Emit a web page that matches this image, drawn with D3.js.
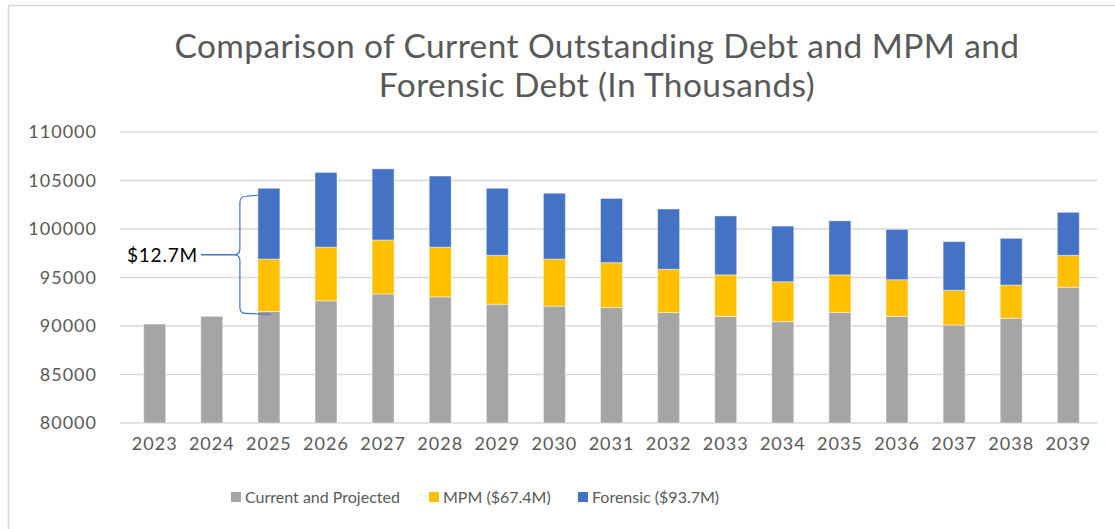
<!DOCTYPE html>
<html>
<head>
<meta charset="utf-8">
<script src="https://cdn.jsdelivr.net/npm/d3@7"></script>
<style>
  body { margin: 0; background: #fff; }
  svg { display: block; font-family: Lato, "Open Sans", sans-serif; }
</style>
</head>
<body>
<svg id="chart" width="1115" height="529"></svg>
<script>
var years = ["2023", "2024", "2025", "2026", "2027", "2028", "2029", "2030", "2031",
             "2032", "2033", "2034", "2035", "2036", "2037", "2038", "2039"];
var current = [90200, 91000, 91500, 92600, 93300, 93000, 92250, 92050, 91900,
               91400, 91000, 90450, 91400, 91000, 90100, 90800, 94000];
var mpm = [0, 0, 5400, 5530, 5570, 5130, 5030, 4850, 4630,
           4450, 4275, 4110, 3875, 3770, 3580, 3420, 3280];
var forensic = [0, 0, 7300, 7700, 7330, 7330, 6920, 6790, 6620,
                6210, 6075, 5740, 5565, 5190, 5020, 4820, 4440];
var yTicks = [80000, 85000, 90000, 95000, 100000, 105000, 110000];
var seriesNames = ["Current and Projected", "MPM ($67.4M)", "Forensic ($93.7M)"];
var colors = ["#a5a5a5", "#ffc000", "#4472c4"];
var titleLines = ["Comparison of Current Outstanding Debt and MPM and", "Forensic Debt (In Thousands)"];
var braceLabel = "$12.7M";
var braceYear = "2025";

var svg = d3.select("#chart"),
    width = 1115,
    height = 529;

var margin = { left: 126, right: 18, top: 132, bottom: 106 };

// outer frame
svg.append("rect")
  .attr("x", 8.5).attr("y", 5.5)
  .attr("width", width + 20).attr("height", height + 20)
  .attr("fill", "none").attr("stroke", "#d9d9d9").attr("stroke-width", 1.5);

var x = d3.scaleBand()
  .domain(years)
  .range([margin.left, width - margin.right])
  .paddingInner(0.615)
  .paddingOuter(0.31);

var y = d3.scaleLinear()
  .domain([80000, 110000])
  .range([height - margin.bottom, margin.top]);

// title
svg.append("g").selectAll("text")
  .data(titleLines)
  .join("text")
  .attr("x", 597)
  .attr("y", function (d, i) { return 58 + i * 39; })
  .attr("text-anchor", "middle")
  .attr("fill", "#595959")
  .attr("font-size", 33.5)
  .attr("letter-spacing", 0.4)
  .text(function (d) { return d; });

// gridlines
svg.append("g")
  .selectAll("line")
  .data(yTicks)
  .join("line")
  .attr("x1", margin.left - 6)
  .attr("x2", width - margin.right)
  .attr("y1", function (d) { return y(d); })
  .attr("y2", function (d) { return y(d); })
  .attr("stroke", "#d9d9d9")
  .attr("stroke-width", 1.5);

// y axis labels
var yAxis = svg.append("g")
  .attr("transform", "translate(97,0)")
  .call(d3.axisLeft(y).tickValues(yTicks).tickSize(0).tickPadding(0).tickFormat(d3.format("d")));
yAxis.select(".domain").remove();
yAxis.selectAll("text")
  .attr("fill", "#595959")
  .attr("font-size", 18)
  .attr("letter-spacing", 1)
  .attr("font-family", "Lato, sans-serif");

// x axis labels
var xAxis = svg.append("g")
  .attr("transform", "translate(0," + (height - margin.bottom) + ")")
  .call(d3.axisBottom(x).tickSize(0).tickPadding(14));
xAxis.select(".domain").remove();
xAxis.selectAll("text")
  .attr("fill", "#595959")
  .attr("font-size", 18)
  .attr("letter-spacing", 1)
  .attr("font-family", "Lato, sans-serif");

// stacked bars
var rows = years.map(function (yr, i) {
  return { year: yr, current: current[i], mpm: mpm[i], forensic: forensic[i] };
});
var stack = d3.stack().keys(["current", "mpm", "forensic"]);
var layers = stack(rows);

svg.append("g")
  .selectAll("g")
  .data(layers)
  .join("g")
  .attr("fill", function (d, i) { return colors[i]; })
  .selectAll("rect")
  .data(function (d) { return d.filter(function (p) { return p[1] > p[0]; }); })
  .join("rect")
  .attr("x", function (d) { return x(d.data.year); })
  .attr("width", x.bandwidth())
  .attr("y", function (d) { return y(d[1]); })
  .attr("height", function (d) { return y(Math.max(d[0], 80000)) - y(d[1]); })
  .attr("stroke", "rgba(255,255,255,0.45)")
  .attr("stroke-width", 1);

// brace annotation
var bi = years.indexOf(braceYear);
var bTop = y(current[bi] + mpm[bi] + forensic[bi]) + 8,
    bBot = y(current[bi]) + 2,
    bMid = (bTop + bBot) / 2,
    bx = x(braceYear) - 18,
    tipX = bx - 6;
var brace = d3.path();
brace.moveTo(x(braceYear), bTop - 1);
brace.lineTo(bx + 6, bTop);
brace.quadraticCurveTo(bx, bTop, bx, bTop + 6);
brace.lineTo(bx, bMid - 6);
brace.quadraticCurveTo(bx, bMid, tipX, bMid);
brace.quadraticCurveTo(bx, bMid, bx, bMid + 6);
brace.lineTo(bx, bBot - 6);
brace.quadraticCurveTo(bx, bBot, bx + 6, bBot);
brace.lineTo(x(braceYear) + 13, bBot + 1);
svg.append("path")
  .attr("d", brace.toString())
  .attr("fill", "none")
  .attr("stroke", "#4472c4")
  .attr("stroke-width", 1.2);
svg.append("line")
  .attr("x1", 201).attr("x2", tipX)
  .attr("y1", bMid).attr("y2", bMid)
  .attr("stroke", "#4472c4")
  .attr("stroke-width", 1.5);
svg.append("text")
  .attr("x", 198)
  .attr("y", bMid + 7)
  .attr("text-anchor", "end")
  .attr("fill", "#000")
  .attr("font-size", 19)
  .attr("letter-spacing", 0.8)
  .text(braceLabel);

// legend
var legendX = [231, 429, 578];
var legend = svg.append("g")
  .selectAll("g")
  .data(seriesNames)
  .join("g")
  .attr("transform", function (d, i) { return "translate(" + legendX[i] + ",497)"; });
legend.append("rect")
  .attr("x", 0).attr("y", -5)
  .attr("width", 10).attr("height", 10)
  .attr("fill", function (d, i) { return colors[i]; });
legend.append("text")
  .attr("x", 14)
  .attr("y", 6)
  .attr("fill", "#595959")
  .attr("font-size", 16)
  .text(function (d) { return d; });
</script>
</body>
</html>
